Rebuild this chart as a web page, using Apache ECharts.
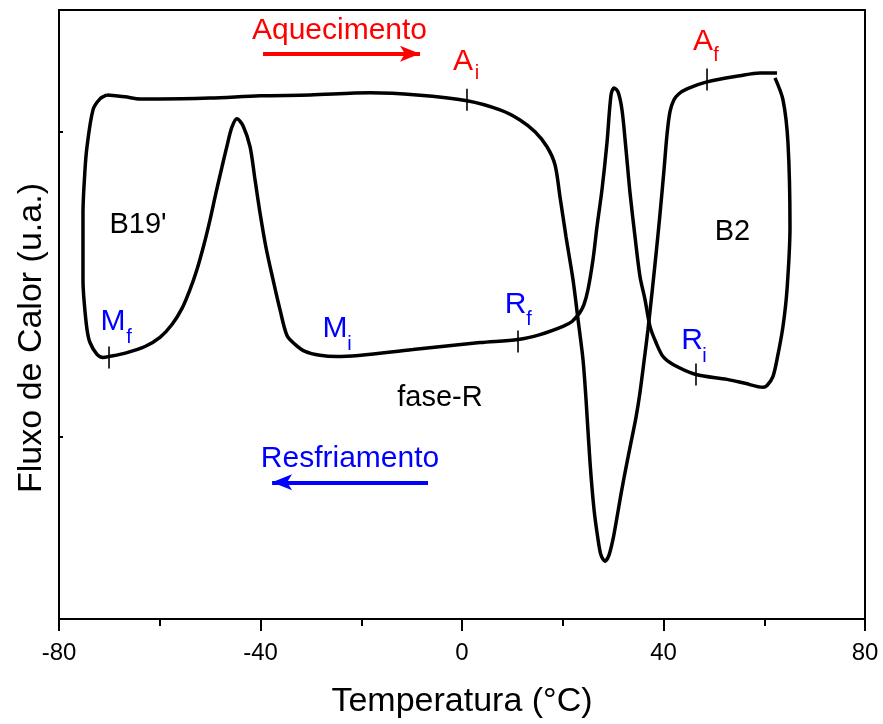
<!DOCTYPE html>
<html>
<head>
<meta charset="utf-8">
<script src="https://cdn.jsdelivr.net/npm/echarts@6.0.0/dist/echarts.min.js"></script>
<style>
  html, body { margin: 0; padding: 0; background: #fff; }
  #chart { width: 883px; height: 724px; }
</style>
</head>
<body>
<div id="chart"></div>
<script>
// Aquecimento (heating) curve
var heatX = [-70.47, -66.90, -63.92, -59.95, -50.02, -40.10, -30.17, -18.26, -8.93, 0.99,
  7.54, 11.51, 14.49, 16.87, 18.46, 19.45, 20.64, 22.03, 23.03, 24.02,
  24.62, 25.41, 26.20, 27.00, 27.59, 28.39, 29.18, 29.98, 30.77, 31.56,
  32.56, 33.55, 34.54, 35.33, 36.13, 36.92, 37.72, 38.51, 39.31, 40.10,
  40.69, 41.29, 42.08, 43.08, 44.67, 48.64, 55.19, 59.16, 62.53];
var heatY = [1.121, 1.115, 1.108, 1.108, 1.111, 1.118, 1.121, 1.128, 1.121, 1.102,
  1.072, 1.039, 1.000, 0.951, 0.892, 0.787, 0.656, 0.515, 0.384, 0.252,
  0.121, -0.085, -0.239, -0.338, -0.390, -0.410, -0.390, -0.338, -0.266, -0.190,
  -0.102, -0.020, 0.062, 0.144, 0.246, 0.351, 0.472, 0.597, 0.731, 0.875,
  0.990, 1.066, 1.105, 1.125, 1.141, 1.164, 1.184, 1.193, 1.193];

// Resfriamento (cooling) curve
var coolX = [62.13, 63.72, 64.71, 65.11, 64.52, 63.72, 62.73, 61.74, 60.55, 59.75,
  56.18, 52.61, 46.45, 41.89, 39.90, 38.51, 37.32, 36.33, 35.33, 34.34,
  33.35, 32.56, 31.76, 30.97, 30.17, 29.58, 28.78, 27.79, 26.80, 26.00,
  25.01, 24.22, 23.42, 21.84, 20.05, 15.48, 11.12, 3.57, -9.73, -24.81,
  -28.19, -31.17, -33.15, -34.74, -36.13, -37.52, -38.91, -40.10, -41.09, -42.08,
  -43.47, -44.67, -45.66, -46.65, -47.64, -48.83, -50.02, -51.22, -52.61, -54.00,
  -55.58, -57.57, -59.95, -62.93, -66.50, -70.07, -71.27, -72.46, -73.85, -74.44,
  -75.04, -75.24, -75.24, -74.84, -74.44, -73.25, -71.86, -70.47];
var coolY = [1.177, 1.105, 0.964, 0.689, 0.482, 0.361, 0.269, 0.197, 0.167, 0.161,
  0.174, 0.187, 0.203, 0.236, 0.262, 0.308, 0.361, 0.449, 0.525, 0.656,
  0.800, 0.941, 1.072, 1.131, 1.144, 1.121, 0.964, 0.810, 0.689, 0.580,
  0.482, 0.433, 0.407, 0.377, 0.361, 0.334, 0.318, 0.308, 0.285, 0.262,
  0.266, 0.279, 0.302, 0.331, 0.416, 0.515, 0.620, 0.734, 0.843, 0.951,
  1.020, 1.043, 1.016, 0.954, 0.885, 0.800, 0.711, 0.630, 0.548, 0.482,
  0.420, 0.367, 0.325, 0.295, 0.275, 0.262, 0.259, 0.269, 0.308, 0.351,
  0.449, 0.515, 0.734, 0.875, 0.951, 1.072, 1.108, 1.121];

// transformation temperature marks (short vertical bars on the curves)
var markX = [0.99, 48.64, 11.12, 46.45, -70.07];
var markY = [1.105, 1.172, 0.311, 0.203, 0.259];

// text annotations: text, x, y, color, font size
var noteText = ['Aquecimento', 'Resfriamento', "B19'", 'B2', 'fase-R',
  'A', 'i', 'A', 'f', 'M', 'f', 'M', 'i', 'R', 'f', 'R', 'i'];
var noteX = [-24.32, -22.23, -64.32, 53.70, -4.37,
  0.20, 2.98, 47.84, 50.42, -69.28, -66.10, -25.21, -22.33, 10.62, 13.30, 45.66, 48.14];
var noteY = [1.333, -0.074, 0.695, 0.672, 0.125,
  1.231, 1.190, 1.297, 1.249, 0.375, 0.325, 0.352, 0.302, 0.431, 0.384, 0.313, 0.262];
var noteColor = ['#ff0000', '#0000ff', '#000', '#000', '#000',
  '#ff0000', '#ff0000', '#ff0000', '#ff0000', '#0000ff', '#0000ff', '#0000ff', '#0000ff',
  '#0000ff', '#0000ff', '#0000ff', '#0000ff'];
var noteSize = [30, 30, 29, 29, 29, 30, 20, 30, 20, 30, 20, 30, 20, 30, 20, 30, 20];

// arrows
var heatArrow = [[-39.5, 1.256], [-8.34, 1.256]];
var coolArrow = [[-6.75, -0.151], [-37.7, -0.151]];

var xTicks = [-80, -40, 0, 40, 80];

function zip(xs, ys) {
  var out = [];
  for (var i = 0; i < xs.length; i++) out.push([xs[i], ys[i]]);
  return out;
}

var notes = [];
for (var i = 0; i < noteText.length; i++) {
  notes.push({
    value: [noteX[i], noteY[i]],
    label: { formatter: noteText[i], color: noteColor[i], fontSize: noteSize[i] }
  });
}

var font = 'Liberation Sans, Arial, sans-serif';
var chart = echarts.init(document.getElementById('chart'));

var option = {
  animation: false,
  backgroundColor: '#fff',
  textStyle: { fontFamily: font },
  grid: {
    left: 59, right: 18, top: 10, bottom: 104,
    show: true, borderColor: '#000', borderWidth: 2
  },
  xAxis: {
    type: 'value',
    min: -80, max: 80, interval: 40,
    name: 'Temperatura (°C)',
    nameLocation: 'middle',
    nameGap: 66,
    nameTextStyle: { fontSize: 34, color: '#000', fontFamily: font },
    axisLine: { onZero: false, lineStyle: { color: '#000', width: 2 } },
    axisTick: { length: 12, lineStyle: { color: '#000', width: 2 } },
    minorTick: { show: true, splitNumber: 2, length: 7, lineStyle: { color: '#000', width: 2 } },
    axisLabel: {
      fontSize: 24, color: '#000', fontFamily: font, margin: 22,
      customValues: xTicks,
      formatter: function (v) { return String(v); }
    },
    splitLine: { show: false }
  },
  yAxis: {
    type: 'value',
    min: -0.6, max: 1.4,
    axisLine: { show: true, onZero: false, lineStyle: { color: '#000', width: 2 } },
    axisTick: { show: true, inside: true, length: 4, customValues: [0, 1], lineStyle: { color: '#000', width: 2 } },
    axisLabel: { show: false },
    splitLine: { show: false }
  },
  graphic: [{
    type: 'text',
    x: 32, y: 338,
    rotation: Math.PI / 2,
    style: {
      text: 'Fluxo de Calor (u.a.)',
      fontSize: 34, fontFamily: font, fill: '#000',
      align: 'center', verticalAlign: 'middle'
    }
  }],
  series: [
    {
      name: 'Aquecimento',
      type: 'line',
      data: zip(heatX, heatY),
      showSymbol: false,
      smooth: 0.3,
      lineStyle: { color: '#000', width: 3.5 },
      markLine: {
        silent: true,
        symbol: ['none', 'arrow'],
        symbolSize: [12, 20],
        label: { show: false },
        lineStyle: { color: '#ff0000', width: 4, type: 'solid' },
        data: [[{ coord: heatArrow[0] }, { coord: heatArrow[1] }]]
      },
      z: 3
    },
    {
      name: 'Resfriamento',
      type: 'line',
      data: zip(coolX, coolY),
      showSymbol: false,
      smooth: 0.3,
      lineStyle: { color: '#000', width: 3.5 },
      markLine: {
        silent: true,
        symbol: ['none', 'arrow'],
        symbolSize: [12, 20],
        label: { show: false },
        lineStyle: { color: '#0000ff', width: 4, type: 'solid' },
        data: [[{ coord: coolArrow[0] }, { coord: coolArrow[1] }]]
      },
      z: 3
    },
    {
      type: 'scatter',
      data: zip(markX, markY),
      symbol: 'rect',
      symbolSize: [1.6, 22],
      itemStyle: { color: '#000', opacity: 1 },
      z: 4
    },
    {
      type: 'scatter',
      data: notes,
      symbolSize: 0,
      itemStyle: { opacity: 1 },
      label: { show: true, position: 'inside', fontFamily: font, opacity: 1 },
      z: 5
    }
  ]
};
chart.setOption(option);
</script>
</body>
</html>
